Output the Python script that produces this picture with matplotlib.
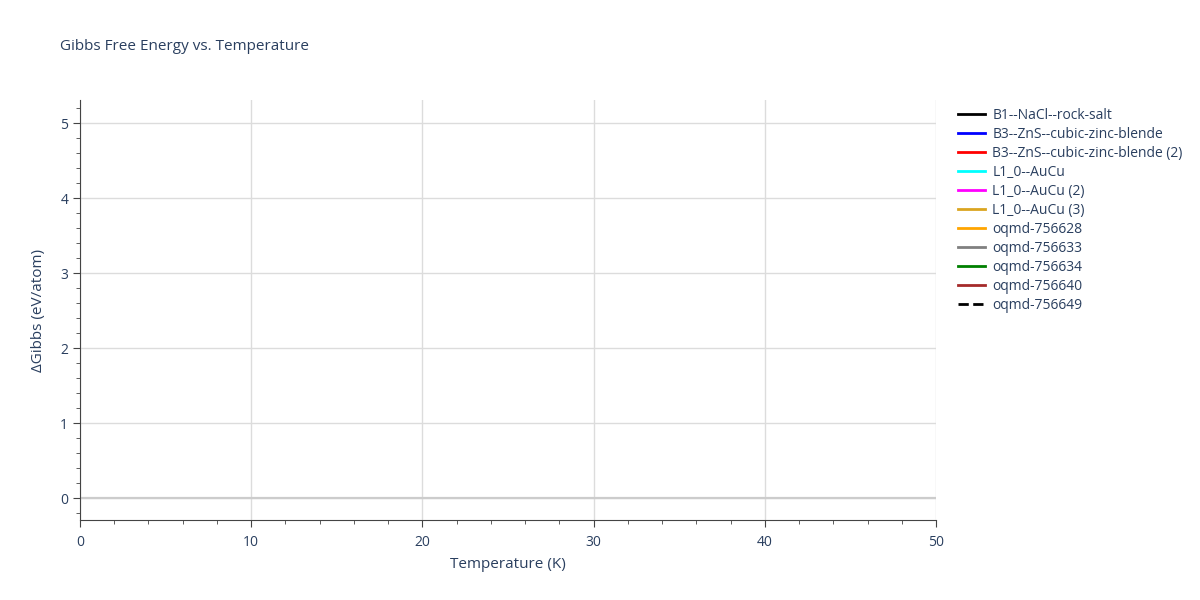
import numpy as np
import matplotlib.pyplot as plt
from matplotlib.ticker import MultipleLocator
from matplotlib.lines import Line2D

plt.rcParams['font.family'] = ['Open Sans', 'DejaVu Sans']

# series names and colours; the traces hold no points in the reference
names = ['B1--NaCl--rock-salt', 'B3--ZnS--cubic-zinc-blende',
         'B3--ZnS--cubic-zinc-blende (2)', 'L1_0--AuCu', 'L1_0--AuCu (2)',
         'L1_0--AuCu (3)', 'oqmd-756628', 'oqmd-756633', 'oqmd-756634',
         'oqmd-756640', 'oqmd-756649']
colors = ['black', 'blue', 'red', 'cyan', 'magenta', 'goldenrod', 'orange',
          'grey', 'green', 'brown', 'black']
dashes = ['-'] * 10 + ['--']
temperature = [[] for _ in names]
gibbs = [[] for _ in names]

txt = '#2a3f5f'
fig = plt.figure(figsize=(12, 6), dpi=100)
ax = fig.add_axes([80 / 1200, 80 / 600, 856 / 1200, 420 / 600])

for t, g, n, c, d in zip(temperature, gibbs, names, colors, dashes):
    ax.plot(t, g, color=c, ls=d, lw=2, label=n)

ax.set_xlim(0, 50)
ax.set_ylim(-0.293, 5.307)
ax.xaxis.set_major_locator(MultipleLocator(10))
ax.xaxis.set_minor_locator(MultipleLocator(2))
ax.yaxis.set_major_locator(MultipleLocator(1))
ax.yaxis.set_minor_locator(MultipleLocator(0.2))
ax.grid(True, which='major', color='#dcdcdc', lw=1)
ax.axhline(0, color='#cccccc', lw=1.6, zorder=1)
ax.set_axisbelow(True)
for s in ['top', 'right']:
    ax.spines[s].set_visible(False)
for s in ['left', 'bottom']:
    ax.spines[s].set_color('#444444')
ax.tick_params(which='major', length=5, color='#444444', labelcolor=txt, labelsize=10)
ax.tick_params(which='minor', length=3, color='#444444')
ax.tick_params(axis='x', pad=6)
ax.set_xlabel('Temperature (K)', color=txt, fontsize=11, labelpad=5)
ax.set_ylabel('ΔGibbs (eV/atom)', color=txt, fontsize=11, labelpad=10)
fig.text(60 / 1200, 1 - 46 / 600, 'Gibbs Free Energy vs. Temperature',
         color=txt, fontsize=11, va='center')

handles = [Line2D([], [], color=c, ls=d, lw=2) for c, d in zip(colors, dashes)]
leg = fig.legend(handles, names, loc='upper left', bbox_to_anchor=(952 / 1200, 1 - 102 / 600),
                 frameon=False, fontsize=10, handlelength=2, labelspacing=0.29,
                 handletextpad=0.5, borderaxespad=0)
for t in leg.get_texts():
    t.set_color(txt)

fig.savefig('out.png', dpi=100)
